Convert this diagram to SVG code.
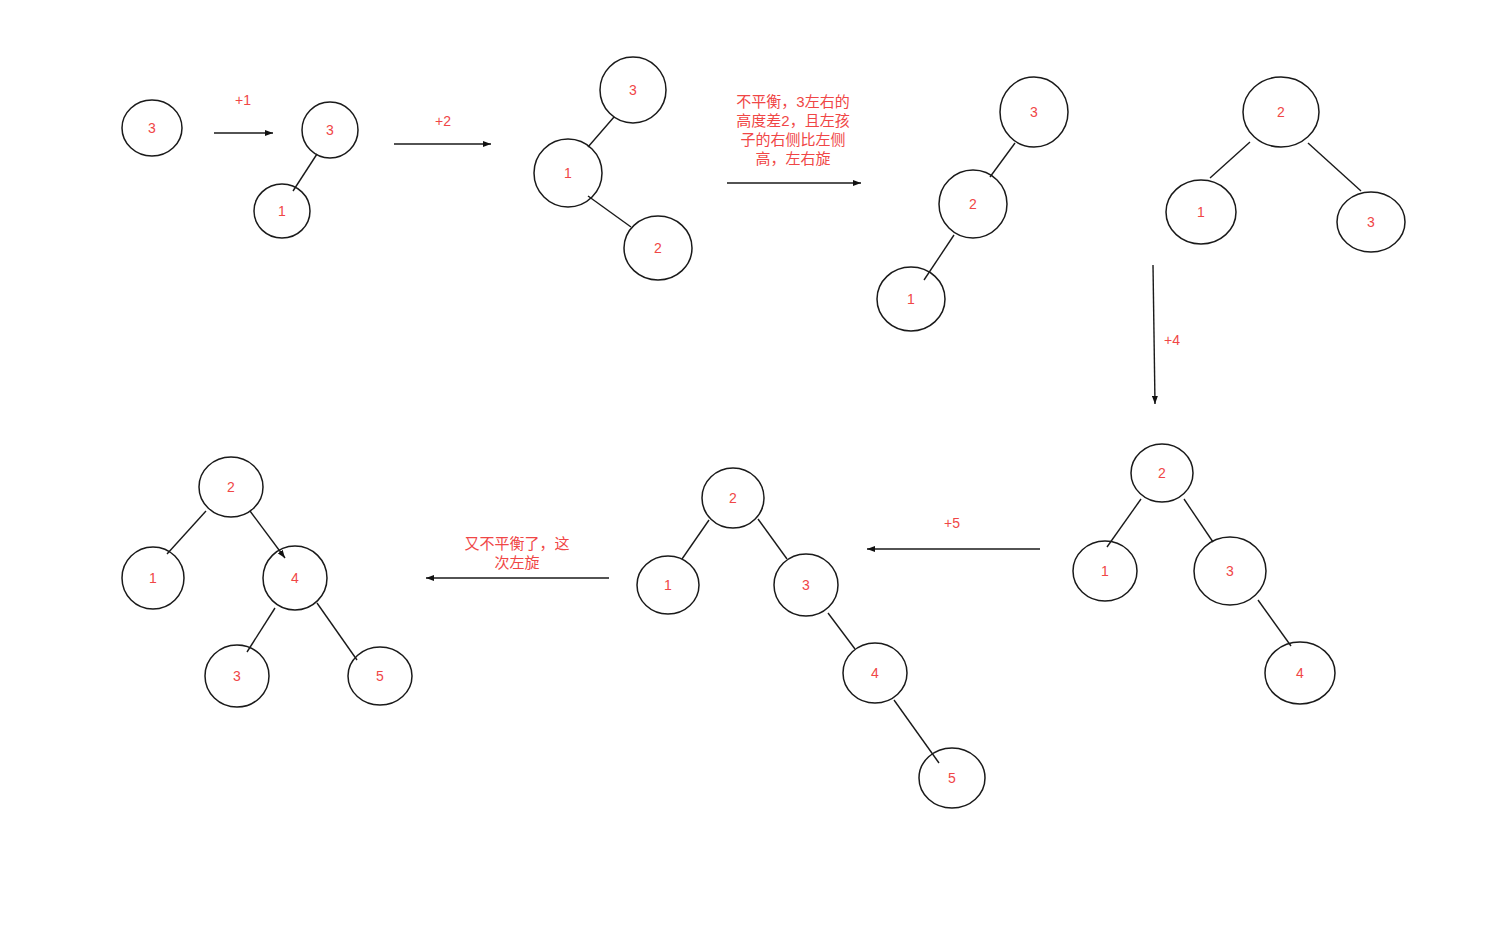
<svg xmlns="http://www.w3.org/2000/svg" width="1500" height="938" viewBox="0 0 1500 938">
<defs>
<marker id="ah" viewBox="0 0 8 6" refX="8" refY="3" markerWidth="8" markerHeight="6" markerUnits="userSpaceOnUse" orient="auto">
<path d="M0,0 L8,3 L0,6 Z" fill="#111"/>
</marker>
<style>
.n ellipse{fill:none;stroke:#1a1a1a;stroke-width:1.5}
.n text,.lbl{font-family:"Liberation Sans","Noto Sans CJK SC",sans-serif;font-size:14px;fill:#f04646;text-anchor:middle}
.cn{font-size:15px}
.e line{stroke:#1a1a1a;stroke-width:1.4;fill:none}
.e .a{marker-end:url(#ah)}
</style>
</defs>
<rect width="1500" height="938" fill="#fff"/>

<g class="e" id="connectors">
<!-- step arrows -->
<line class="a" x1="214" y1="133" x2="273" y2="133"/>
<line class="a" x1="394" y1="144" x2="491" y2="144"/>
<line class="a" x1="727" y1="183" x2="861" y2="183"/>
<line class="a" x1="1153" y1="265" x2="1155" y2="404"/>
<line class="a" x1="1040" y1="549" x2="867" y2="549"/>
<line class="a" x1="609" y1="578" x2="426" y2="578"/>
<!-- tree B -->
<line x1="317" y1="154" x2="293" y2="191"/>
<!-- tree C -->
<line x1="614" y1="117" x2="588" y2="147"/>
<line x1="588" y1="196" x2="631" y2="227"/>
<!-- tree D -->
<line x1="1015" y1="143" x2="990" y2="177"/>
<line x1="954" y1="235" x2="924" y2="280"/>
<!-- tree E -->
<line x1="1250" y1="142" x2="1210" y2="178"/>
<line x1="1308" y1="143" x2="1361" y2="191"/>
<!-- tree F -->
<line x1="1141" y1="499" x2="1107" y2="547"/>
<line x1="1184" y1="499" x2="1213" y2="542"/>
<line x1="1258" y1="600" x2="1291" y2="646"/>
<!-- tree G -->
<line x1="709" y1="520" x2="682" y2="559"/>
<line x1="758" y1="519" x2="787" y2="559"/>
<line x1="828" y1="613" x2="855" y2="649"/>
<line x1="894" y1="700" x2="939" y2="763"/>
<!-- tree H -->
<line x1="206" y1="511" x2="167" y2="554"/>
<line class="a" x1="250" y1="511" x2="285" y2="558"/>
<line x1="275" y1="608" x2="247" y2="652"/>
<line x1="317" y1="603" x2="357" y2="660"/>
</g>

<g id="labels">
<text class="lbl" x="243" y="105">+1</text>
<text class="lbl" x="443" y="126">+2</text>
<text class="lbl cn" x="793" y="107">不平衡，3左右的</text>
<text class="lbl cn" x="793" y="126">高度差2，且左孩</text>
<text class="lbl cn" x="793" y="145">子的右侧比左侧</text>
<text class="lbl cn" x="793" y="164">高，左右旋</text>
<text class="lbl" x="1172" y="345">+4</text>
<text class="lbl" x="952" y="528">+5</text>
<text class="lbl cn" x="517" y="549">又不平衡了，这</text>
<text class="lbl cn" x="517" y="568">次左旋</text>
</g>

<!-- tree A -->
<g class="n" id="a3"><ellipse cx="152" cy="128" rx="30" ry="28"/><text x="152" y="133">3</text></g>
<!-- tree B -->
<g class="n" id="b3"><ellipse cx="330" cy="130" rx="28" ry="28"/><text x="330" y="135">3</text></g>
<g class="n" id="b1"><ellipse cx="282" cy="211" rx="28" ry="27"/><text x="282" y="216">1</text></g>
<!-- tree C -->
<g class="n" id="c3"><ellipse cx="633" cy="90" rx="33" ry="33"/><text x="633" y="95">3</text></g>
<g class="n" id="c1"><ellipse cx="568" cy="173" rx="34" ry="34"/><text x="568" y="178">1</text></g>
<g class="n" id="c2"><ellipse cx="658" cy="248" rx="34" ry="32"/><text x="658" y="253">2</text></g>
<!-- tree D -->
<g class="n" id="d3"><ellipse cx="1034" cy="112" rx="34" ry="35"/><text x="1034" y="117">3</text></g>
<g class="n" id="d2"><ellipse cx="973" cy="204" rx="34" ry="34"/><text x="973" y="209">2</text></g>
<g class="n" id="d1"><ellipse cx="911" cy="299" rx="34" ry="32"/><text x="911" y="304">1</text></g>
<!-- tree E -->
<g class="n" id="e2"><ellipse cx="1281" cy="112" rx="38" ry="35"/><text x="1281" y="117">2</text></g>
<g class="n" id="e1"><ellipse cx="1201" cy="212" rx="35" ry="32"/><text x="1201" y="217">1</text></g>
<g class="n" id="e3"><ellipse cx="1371" cy="222" rx="34" ry="30"/><text x="1371" y="227">3</text></g>
<!-- tree F -->
<g class="n" id="f2"><ellipse cx="1162" cy="473" rx="31" ry="29"/><text x="1162" y="478">2</text></g>
<g class="n" id="f1"><ellipse cx="1105" cy="571" rx="32" ry="30"/><text x="1105" y="576">1</text></g>
<g class="n" id="f3"><ellipse cx="1230" cy="571" rx="36" ry="34"/><text x="1230" y="576">3</text></g>
<g class="n" id="f4"><ellipse cx="1300" cy="673" rx="35" ry="31"/><text x="1300" y="678">4</text></g>
<!-- tree G -->
<g class="n" id="g2"><ellipse cx="733" cy="498" rx="31" ry="30"/><text x="733" y="503">2</text></g>
<g class="n" id="g1"><ellipse cx="668" cy="585" rx="31" ry="29"/><text x="668" y="590">1</text></g>
<g class="n" id="g3"><ellipse cx="806" cy="585" rx="32" ry="31"/><text x="806" y="590">3</text></g>
<g class="n" id="g4"><ellipse cx="875" cy="673" rx="32" ry="30"/><text x="875" y="678">4</text></g>
<g class="n" id="g5"><ellipse cx="952" cy="778" rx="33" ry="30"/><text x="952" y="783">5</text></g>
<!-- tree H -->
<g class="n" id="h2"><ellipse cx="231" cy="487" rx="32" ry="30"/><text x="231" y="492">2</text></g>
<g class="n" id="h1"><ellipse cx="153" cy="578" rx="31" ry="31"/><text x="153" y="583">1</text></g>
<g class="n" id="h4"><ellipse cx="295" cy="578" rx="32" ry="32"/><text x="295" y="583">4</text></g>
<g class="n" id="h3"><ellipse cx="237" cy="676" rx="32" ry="31"/><text x="237" y="681">3</text></g>
<g class="n" id="h5"><ellipse cx="380" cy="676" rx="32" ry="29"/><text x="380" y="681">5</text></g>
</svg>
